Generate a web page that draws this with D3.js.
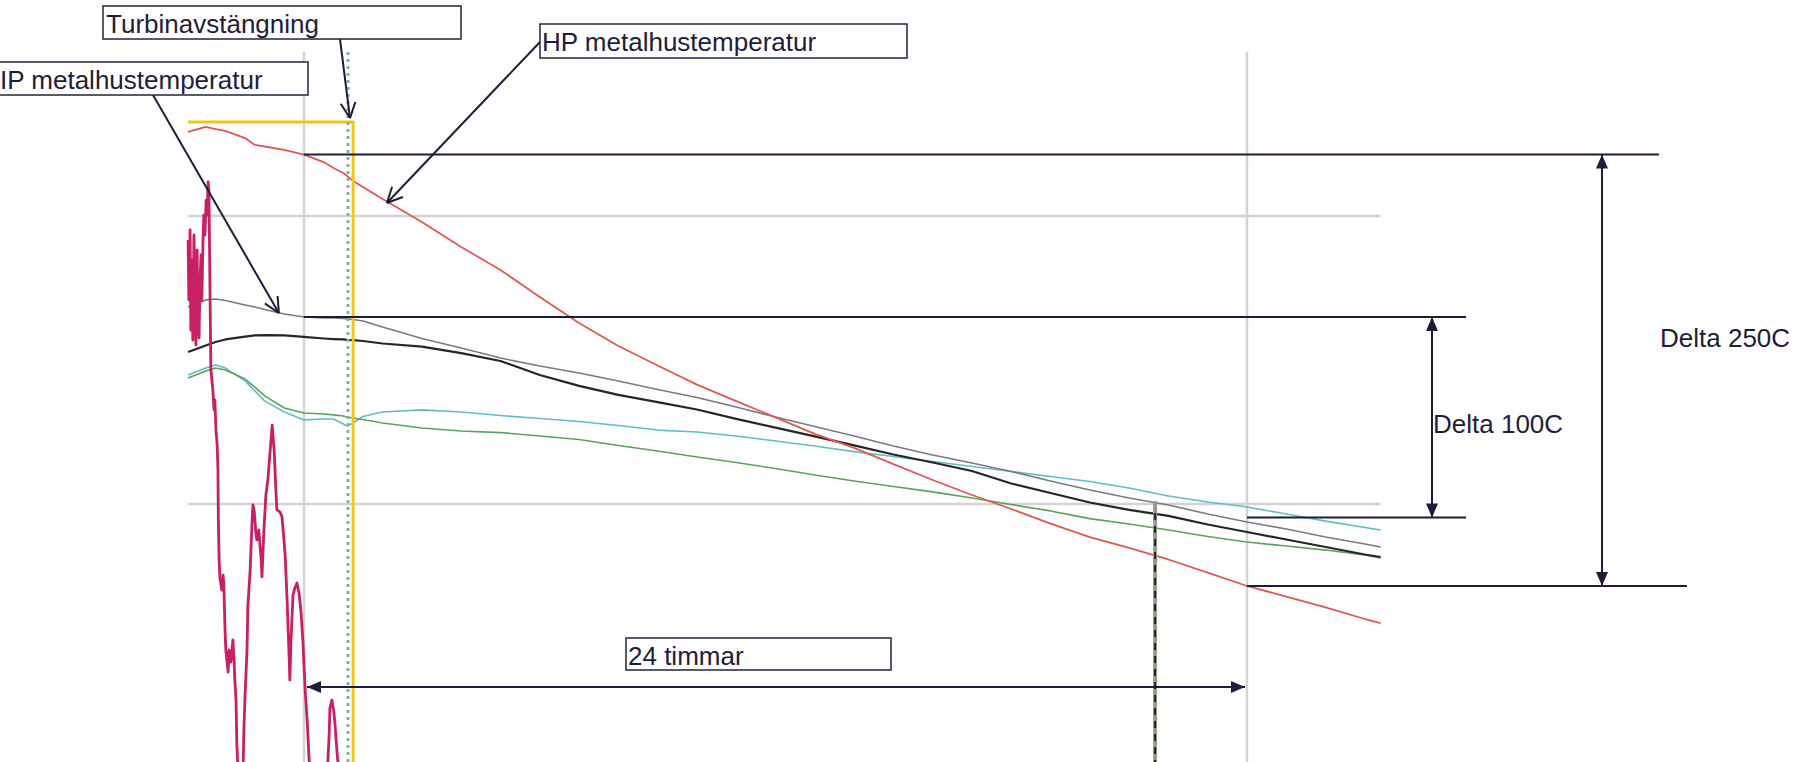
<!DOCTYPE html>
<html lang="sv">
<head>
  <meta charset="UTF-8">
  <title>Turbinavstängning - metalhustemperaturer</title>
  <script src="https://d3js.org/d3.v7.min.js"></script>
  <style>
    body { margin: 0; background: #fff; }
    svg { display: block; }
    .note { font-family: "Liberation Sans", Arial, sans-serif; font-size: 26px; fill: #1d1d3b; }
    .box { fill: #fff; stroke: #23233f; stroke-width: 1.5px; }
    .ann { stroke: #1d1d3b; stroke-width: 2px; fill: none; }
    .head { fill: #1d1d3b; stroke: none; }
    .grid { stroke: #d4d4d4; stroke-width: 2.5px; }
    .series { fill: none; stroke-linejoin: round; }
  </style>
</head>
<body>
  <svg id="chart" width="1802" height="762"></svg>

  <script>
    // time in hours, 0 = first grid line, 24 = second grid line
    const hours = [-2.95, -2.5, -2.25, -2, -1.5, -1.25, -1, -0.5, 0, 0.5, 0.75, 1, 1.1, 1.25, 1.5, 2,
      3, 4, 5, 6, 7, 8, 9, 10, 11, 12, 13, 14, 15, 16, 17, 18, 19, 20, 21, 22, 23, 24, 25, 26, 27, 27.4];

    // temperatures in degC
    const hpMetal = [543.8, 546.4, 545.3, 544.3, 540.6, 537.0, 536.2, 534.4, 532.0, 528.1, 525.0, 522.4, 520.8, 518.2, 515.1, 508.9,
      496.9, 483.9, 471.9, 457.8, 444.3, 432.3, 422.1, 412.2, 403.6, 395.1, 386.5, 379.2, 370.8, 362.5, 354.7, 347.4,
      339.8, 332.8, 327.1, 321.1, 314.3, 307.3, 301.8, 296.1, 290.1, 288.0];
    const ipMetal = [452.6, 456.3, 456.8, 456.0, 453.6, 452.6, 451.3, 449.0, 447.4, 446.9, 446.9, 446.6, 446.4, 446.1, 445.3, 442.2,
      436.2, 431.3, 426.0, 421.9, 418.2, 414.1, 409.6, 405.5, 400.5, 395.3, 390.4, 385.4, 380.2, 375.5, 371.4, 366.9,
      362.0, 357.3, 353.1, 349.5, 344.8, 340.6, 337.0, 332.8, 329.2, 327.6];
    const blackTemp = [429.2, 432.6, 434.4, 435.7, 437.2, 437.8, 438.0, 437.8, 437.0, 436.2, 435.9, 435.7, 435.5, 435.4, 434.9, 433.6,
      432.0, 428.6, 424.5, 417.2, 411.5, 406.8, 403.1, 399.2, 394.3, 389.8, 385.2, 380.5, 375.8, 371.6, 367.2, 360.7,
      355.7, 350.8, 346.9, 343.8, 339.3, 335.4, 331.5, 327.6, 323.7, 322.4];
    const cyanTemp = [417.2, 420.8, 422.4, 420.8, 414.1, 408.9, 403.6, 397.9, 393.8, 394.3, 394.3, 391.7, 390.6, 392.2, 395.6, 397.9,
      399.0, 397.9, 396.1, 394.5, 393.0, 390.9, 388.5, 387.5, 385.4, 382.8, 380.2, 377.3, 374.7, 372.1, 369.5, 366.9,
      364.3, 361.7, 358.3, 354.2, 351.0, 348.4, 344.8, 341.1, 337.8, 336.5];
    const greenTemp = [415.6, 419.3, 420.8, 419.8, 415.1, 410.9, 406.3, 400.0, 397.4, 396.9, 396.4, 395.8, 395.3, 394.8, 394.0, 392.2,
      389.6, 388.0, 387.2, 385.4, 383.6, 380.5, 377.6, 374.5, 371.6, 368.5, 365.1, 362.0, 359.1, 356.3, 353.1, 349.7,
      346.4, 342.4, 339.6, 336.5, 333.1, 330.2, 328.1, 326.0, 323.4, 321.9];

    // jagged trace before the shutdown, [hour, value]
    const flowReadings = [
      [-2.95, 487.5], [-2.93, 456.3], [-2.90, 492.7], [-2.88, 440.6], [-2.85, 477.1], [-2.83, 435.4], [-2.80, 490.1],
      [-2.77, 445.8], [-2.75, 432.8], [-2.72, 482.3], [-2.70, 451.0], [-2.67, 436.5], [-2.65, 464.1], [-2.62, 479.7],
      [-2.60, 456.3], [-2.57, 487.5], [-2.55, 500.5], [-2.52, 490.1], [-2.49, 508.3], [-2.47, 500.5], [-2.44, 517.7],
      [-2.42, 513.5], [-2.39, 456.3], [-2.37, 419.8], [-2.32, 409.4], [-2.29, 399.0], [-2.27, 404.2], [-2.24, 388.5],
      [-2.21, 380.7], [-2.19, 367.7], [-2.18, 341.7], [-2.16, 320.8], [-2.14, 311.5], [-2.09, 305.2], [-2.06, 313.0],
      [-2.04, 307.8], [-2.01, 284.4], [-1.99, 274.0], [-1.93, 262.5], [-1.91, 274.0], [-1.86, 267.7], [-1.81, 279.2],
      [-1.78, 268.8], [-1.76, 258.3], [-1.73, 247.9], [-1.71, 225.5], [-1.68, 211.5], [-1.55, 211.5], [-1.53, 232.3],
      [-1.50, 250.5], [-1.45, 274.0], [-1.43, 296.4], [-1.37, 315.6], [-1.32, 341.7], [-1.30, 349.5], [-1.27, 346.9],
      [-1.22, 333.9], [-1.20, 331.3], [-1.15, 336.5], [-1.09, 320.8], [-1.07, 312.0], [-1.02, 336.5], [-0.97, 354.7],
      [-0.92, 362.5], [-0.87, 375.5], [-0.81, 391.1], [-0.76, 378.1], [-0.71, 354.7], [-0.69, 346.9], [-0.61, 345.8],
      [-0.56, 343.2], [-0.51, 331.3], [-0.48, 323.4], [-0.43, 300.0], [-0.38, 271.4], [-0.36, 258.3], [-0.33, 279.2],
      [-0.28, 302.6], [-0.23, 306.3], [-0.18, 308.9], [-0.13, 304.2], [-0.08, 294.8], [-0.03, 279.2], [0.03, 253.1],
      [0.08, 237.5], [0.13, 216.7], [0.15, 208.9], [0.59, 208.9], [0.64, 229.7], [0.66, 243.8], [0.71, 247.9],
      [0.76, 241.7], [0.79, 234.9], [0.84, 220.8], [0.89, 208.9]
    ];

    // load trace: flat, then dropped at shutdown
    const loadHours = [-2.95, 1.25, 1.25];
    const loadValues = [549, 549, 200];

    const markerHour = 1.12;       // dotted shutdown marker
    const spikeHour = 21.66;       // disturbance near the end
    const spikeTop = 351.6;
    const gridHours = [0, 24];
    const gridValues = [500, 350];

    // annotation readings
    const delta100 = { top: 447.4, bottom: 343.0 };
    const delta250 = { top: 532.0, bottom: 307.3 };

    const width = 1802, height = 762;
    const plotTop = 52;

    const x = d3.scaleLinear().domain([0, 24]).range([304, 1247]);
    const y = d3.scaleLinear().domain([350, 500]).range([504, 216]);
    const xStart = x(hours[0]), xEnd = x(hours[hours.length - 1]);

    const svg = d3.select("#chart");
    const line = d3.line().x(d => x(d[0])).y(d => y(d[1]));

    // grid
    const grid = svg.append("g");
    grid.selectAll("line.v").data(gridHours).enter().append("line")
      .attr("class", "grid")
      .attr("x1", d => x(d)).attr("x2", d => x(d))
      .attr("y1", plotTop).attr("y2", height);
    grid.selectAll("line.h").data(gridValues).enter().append("line")
      .attr("class", "grid")
      .attr("x1", xStart).attr("x2", xEnd)
      .attr("y1", d => y(d)).attr("y2", d => y(d));

    // series
    const series = [
      { values: cyanTemp, color: "#5fbfc6", w: 1.6 },
      { values: greenTemp, color: "#5aa35a", w: 1.6 },
      { values: ipMetal, color: "#7b7b7b", w: 1.6 },
      { values: blackTemp, color: "#262626", w: 2.2 },
      { values: hpMetal, color: "#e4574d", w: 1.8 }
    ];
    svg.append("g").selectAll("path").data(series).enter().append("path")
      .attr("class", "series")
      .attr("d", s => line(hours.map((h, i) => [h, s.values[i]])))
      .attr("stroke", s => s.color)
      .attr("stroke-width", s => s.w);

    svg.append("path")
      .attr("class", "series")
      .attr("d", line(flowReadings))
      .attr("stroke", "#c91f63")
      .attr("stroke-width", 2.8);

    svg.append("path")
      .attr("class", "series")
      .attr("d", line(loadHours.map((h, i) => [h, loadValues[i]])))
      .attr("stroke", "#f2c51c")
      .attr("stroke-width", 3);

    svg.append("line")
      .attr("x1", x(markerHour)).attr("x2", x(markerHour))
      .attr("y1", plotTop).attr("y2", height)
      .attr("stroke", "#86b0a0").attr("stroke-width", 3)
      .attr("stroke-dasharray", "3,4");

    // spike near the end
    const spike = svg.append("g");
    spike.append("line")
      .attr("x1", x(spikeHour)).attr("x2", x(spikeHour))
      .attr("y1", y(spikeTop)).attr("y2", height)
      .attr("stroke", "#9a9a9a").attr("stroke-width", 4);
    spike.append("line")
      .attr("x1", x(spikeHour) + 1).attr("x2", x(spikeHour) + 1)
      .attr("y1", y(spikeTop) + 6).attr("y2", height)
      .attr("stroke", "#6bb05a").attr("stroke-width", 1.8)
      .attr("stroke-dasharray", "5,5");
    spike.append("line")
      .attr("x1", x(spikeHour)).attr("x2", x(spikeHour))
      .attr("y1", y(spikeTop) + 12).attr("y2", height)
      .attr("stroke", "#1a1a1a").attr("stroke-width", 1.8)
      .attr("stroke-dasharray", "7,6");

    // annotations
    const ann = svg.append("g");

    function openArrow(x1, y1, x2, y2) {
      ann.append("line").attr("class", "ann")
        .attr("x1", x1).attr("y1", y1).attr("x2", x2).attr("y2", y2);
      const a = Math.atan2(y2 - y1, x2 - x1);
      [-0.45, 0.45].forEach(da => {
        ann.append("line").attr("class", "ann")
          .attr("x1", x2).attr("y1", y2)
          .attr("x2", x2 - 17 * Math.cos(a + da))
          .attr("y2", y2 - 17 * Math.sin(a + da));
      });
    }

    function filledHead(tx, ty, a) {
      const len = 14, half = 6;
      const bx = tx - len * Math.cos(a), by = ty - len * Math.sin(a);
      const px = -Math.sin(a) * half, py = Math.cos(a) * half;
      ann.append("path").attr("class", "head")
        .attr("d", `M${tx},${ty}L${bx + px},${by + py}L${bx - px},${by - py}Z`);
    }

    function doubleArrow(x1, y1, x2, y2) {
      ann.append("line").attr("class", "ann")
        .attr("x1", x1).attr("y1", y1).attr("x2", x2).attr("y2", y2);
      const a = Math.atan2(y2 - y1, x2 - x1);
      filledHead(x2, y2, a);
      filledHead(x1, y1, a + Math.PI);
    }

    function hline(x1, x2, yy) {
      ann.append("line").attr("class", "ann")
        .attr("x1", x1).attr("x2", x2).attr("y1", yy).attr("y2", yy);
    }

    // delta brackets
    hline(x(0), 1659, y(delta250.top));
    hline(x(24), 1687, y(delta250.bottom));
    hline(x(0), 1466, y(delta100.top));
    hline(x(24), 1466, y(delta100.bottom));
    doubleArrow(1432, y(delta100.top), 1432, y(delta100.bottom));
    doubleArrow(1602, y(delta250.top), 1602, y(delta250.bottom));
    ann.append("text").attr("class", "note").attr("x", 1433).attr("y", 433).text("Delta 100C");
    ann.append("text").attr("class", "note").attr("x", 1660).attr("y", 347).text("Delta 250C");

    // 24 hour span
    doubleArrow(x(0) + 3, 687, x(24) - 2, 687);

    // label boxes
    const boxes = [
      { text: "Turbinavstängning", bx: 103, by: 6, bw: 358, bh: 33, tx: 106 },
      { text: "IP metalhustemperatur", bx: -2, by: 62, bw: 310, bh: 33, tx: 0 },
      { text: "HP metalhustemperatur", bx: 540, by: 24, bw: 367, bh: 34, tx: 542 },
      { text: "24 timmar", bx: 626, by: 638, bw: 265, bh: 32, tx: 628 }
    ];

    // pointers: from box edge to a point on the curve
    openArrow(340, 39, x(1.17), y(551));
    openArrow(153, 95, x(-0.64), y(449.5));
    openArrow(540, 42, x(2.11), y(506.8));

    boxes.forEach(b => {
      ann.append("rect").attr("class", "box")
        .attr("x", b.bx).attr("y", b.by).attr("width", b.bw).attr("height", b.bh);
      ann.append("text").attr("class", "note")
        .attr("x", b.tx).attr("y", b.by + 27).text(b.text);
    });
  </script>
</body>
</html>
